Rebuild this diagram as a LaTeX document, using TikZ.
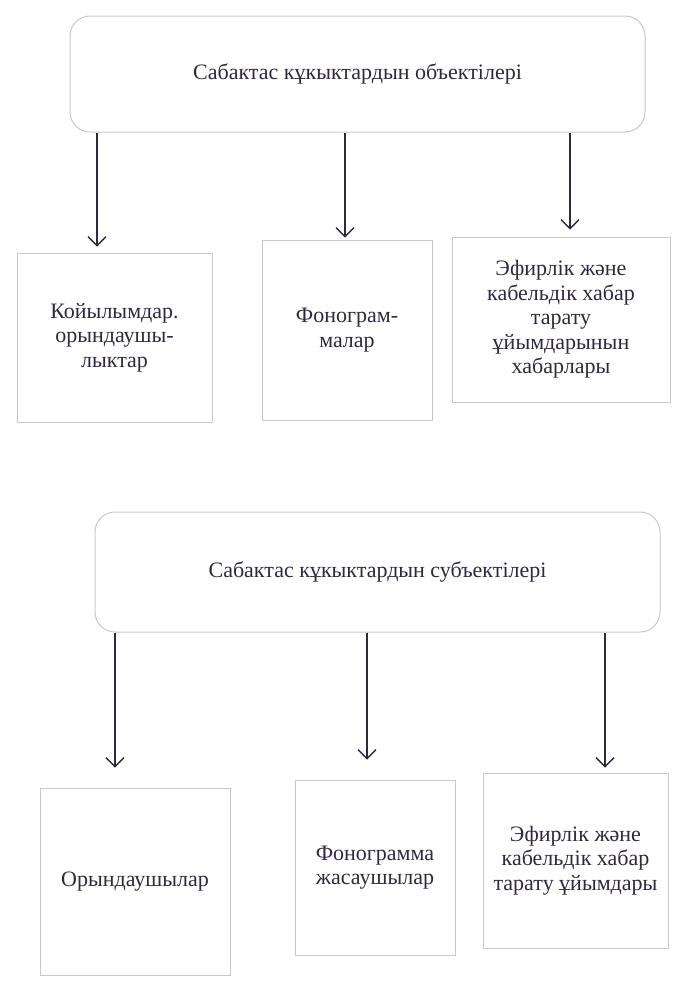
\documentclass[tikz,border=0pt]{standalone}
\usepackage{fontspec}
\setmainfont{Liberation Serif}
\usetikzlibrary{arrows.meta,positioning}
\definecolor{inkc}{RGB}{48,40,64}
\definecolor{framec}{RGB}{200,200,204}
\tikzset{every picture/.style={line width=0.75pt}}

\begin{document}
\begin{tikzpicture}[x=1pt,y=1pt,yscale=-1,xscale=1,
  headbox/.style={draw=framec, line width=1pt, rounded corners=20pt, text=inkc, font=\fontsize{22}{24}\selectfont},
  itembox/.style={draw=framec, line width=1pt, align=center, text=inkc, inner sep=0pt, font=\fontsize{22}{24.5}\selectfont},
  arr/.style={draw=inkc, line width=1.3pt, -{Straight Barb[length=9pt,width=18pt,line width=1.3pt]}}]
\useasboundingbox (0,0) rectangle (681,989);

% objects of related rights
\node [headbox, minimum width=575pt, minimum height=116pt] (obj) at (357.5,74) {Сабактас кұкыктардын объектілері};

\node [itembox, minimum width=195pt, minimum height=169pt] (obja) at (114.5,337.5) {Койылымдар.\\орындаушы-\\лыктар};
\node [itembox, minimum width=170pt, minimum height=180pt] (objb) at (347,330) {Фонограм-\\малар};
\node [itembox, minimum width=218pt, minimum height=165pt] (objc) at (561,319.5) {Эфирлік және\\кабельдік хабар\\тарату\\ұйымдарынын\\хабарлары};

\draw [arr, shorten >=6pt] ([xshift=-17.5pt]obja.north |- obj.south) -- ([xshift=-17.5pt]obja.north);
\draw [arr, shorten >=2pt] ([xshift=-2pt]objb.north |- obj.south) -- ([xshift=-2pt]objb.north);
\draw [arr, shorten >=7pt] ([xshift=9pt]objc.north |- obj.south) -- ([xshift=9pt]objc.north);

% subjects of related rights
\node [headbox, minimum width=565pt, minimum height=120pt] (subj) at (377.5,572) {Сабактас кұкыктардын субъектілері};

\node [itembox, minimum width=190pt, minimum height=187pt] (subja) at (135,881.5) {Орындаушылар};
\node [itembox, minimum width=160pt, minimum height=175pt] (subjb) at (375,867.5) {Фонограмма\\жасаушылар};
\node [itembox, minimum width=185pt, minimum height=175pt] (subjc) at (575.5,860.5) {Эфирлік және\\кабельдік хабар\\тарату ұйымдары};

\draw [arr, shorten >=20pt] ([xshift=-20pt]subja.north |- subj.south) -- ([xshift=-20pt]subja.north);
\draw [arr, shorten >=20pt] ([xshift=-8pt]subjb.north |- subj.south) -- ([xshift=-8pt]subjb.north);
\draw [arr, shorten >=5pt] ([xshift=29.5pt]subjc.north |- subj.south) -- ([xshift=29.5pt]subjc.north);

\end{tikzpicture}
\end{document}
